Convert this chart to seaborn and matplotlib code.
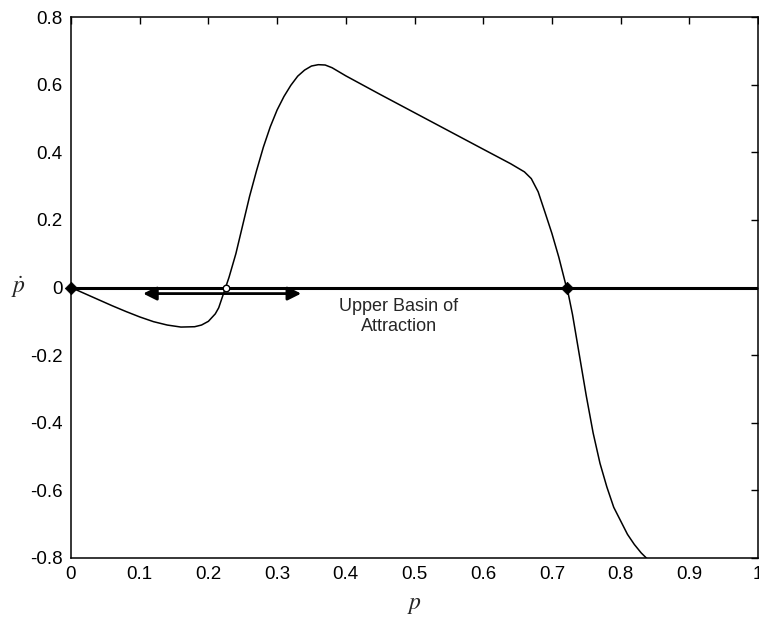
import numpy as np
import pandas as pd
import matplotlib
matplotlib.use("Agg")
import matplotlib.pyplot as plt
import seaborn as sns

# curve: p vs p-dot
p_vals = [0.0, 0.02, 0.04, 0.06, 0.08, 0.10, 0.12, 0.14, 0.16, 0.18, 0.19, 0.20,
          0.21, 0.215, 0.22, 0.225, 0.23, 0.24, 0.25, 0.26, 0.27, 0.28, 0.29,
          0.30, 0.31, 0.32, 0.33, 0.34, 0.35, 0.36, 0.37, 0.38, 0.40, 0.45,
          0.50, 0.55, 0.60, 0.64, 0.66, 0.67, 0.68, 0.69, 0.70, 0.71, 0.72,
          0.722, 0.73, 0.74, 0.75, 0.76, 0.77, 0.78, 0.79, 0.80, 0.81, 0.82,
          0.83, 0.84]
pdot_vals = [0.0, -0.018, -0.036, -0.054, -0.071, -0.087, -0.101, -0.111, -0.117,
             -0.116, -0.111, -0.100, -0.078, -0.060, -0.030, 0.0, 0.03, 0.10,
             0.185, 0.27, 0.345, 0.415, 0.475, 0.525, 0.565, 0.598, 0.625, 0.643,
             0.655, 0.659, 0.658, 0.650, 0.626, 0.571, 0.517, 0.463, 0.409,
             0.366, 0.342, 0.322, 0.283, 0.222, 0.16, 0.09, 0.01, 0.0, -0.08,
             -0.20, -0.32, -0.43, -0.52, -0.59, -0.65, -0.69, -0.73, -0.76,
             -0.785, -0.805]

# equilibrium points
stable_p = [0.0, 0.722]
unstable_p = [0.225]

# basin arrow ends
basin_left = 0.105
basin_right = 0.335
basin_y = -0.018

x_ticks = [0, 0.1, 0.2, 0.3, 0.4, 0.5, 0.6, 0.7, 0.8, 0.9, 1]
x_tick_labels = ["0", "0.1", "0.2", "0.3", "0.4", "0.5", "0.6", "0.7", "0.8", "0.9", "1"]
y_ticks = [-0.8, -0.6, -0.4, -0.2, 0, 0.2, 0.4, 0.6, 0.8]
y_tick_labels = ["-0.8", "-0.6", "-0.4", "-0.2", "0", "0.2", "0.4", "0.6", "0.8"]

sns.set_style("white")
plt.rcParams["font.family"] = ["Liberation Sans", "DejaVu Sans"]
plt.rcParams["mathtext.fontset"] = "stix"

fig = plt.figure(figsize=(7.59, 6.21), dpi=100)
ax = fig.add_axes([71 / 759, 1 - 558 / 621, 687 / 759, 541 / 621])

curve = pd.DataFrame({"p": p_vals, "pdot": pdot_vals})
sns.lineplot(data=curve, x="p", y="pdot", sort=False, color="black", linewidth=1.1, ax=ax)

ax.axhline(0, color="black", linewidth=2.2, zorder=1)

sns.scatterplot(x=stable_p, y=[0] * len(stable_p), marker="D", s=40, color="black",
                edgecolor="black", zorder=5, ax=ax, clip_on=False)
sns.scatterplot(x=unstable_p, y=[0] * len(unstable_p), marker="o", s=22, facecolor="white",
                edgecolor="black", linewidth=1.0, zorder=5, ax=ax)

ax.annotate("", xy=(basin_left, basin_y), xytext=(basin_right, basin_y),
            arrowprops=dict(arrowstyle="<|-|>", color="black", lw=2.0,
                            mutation_scale=20, shrinkA=0, shrinkB=0))
ax.text(0.477, -0.086, "Upper Basin of\nAttraction", ha="center", va="center",
        fontsize=13, linespacing=1.2)

ax.set_xlim(0, 1)
ax.set_ylim(-0.8, 0.8)
ax.set_xticks(x_ticks)
ax.set_xticklabels(x_tick_labels)
ax.set_yticks(y_ticks)
ax.set_yticklabels(y_tick_labels)
ax.tick_params(direction="in", length=5, width=1, labelsize=13.5, colors="black",
               top=True, right=True, pad=6)
for s in ax.spines.values():
    s.set_color("black")
    s.set_linewidth(1.1)

ax.set_xlabel(r"$p$", fontsize=17, labelpad=8)
ax.set_ylabel(r"$\dot{p}$", fontsize=17, rotation=0, va="center")
ax.yaxis.set_label_coords(-0.077, 0.5)

fig.savefig("out.png", dpi=100)
